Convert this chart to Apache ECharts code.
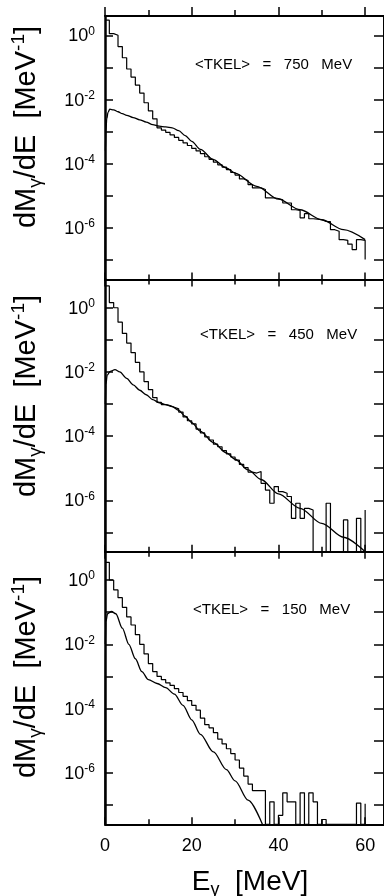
<!DOCTYPE html>
<html><head><meta charset="utf-8">
<script src="https://cdn.jsdelivr.net/npm/echarts@6/dist/echarts.min.js"></script>
<style>html,body{margin:0;padding:0;background:#fff}#c{width:384px;height:896px}</style>
</head><body><div id="c"></div>
<script>
// ---------- data (y values are log10 of dM/dE in MeV^-1; null = empty bin) ----------
const xMajorTicks = [0, 20, 40, 60];
const xMinorTicks = [10, 30, 50];
const xTickLabels = [0, 20, 40, 60];
const yTicks = [-7, -6, -5, -4, -3, -2, -1, 0];
const yTickLabels = [-6, -4, -2, 0];
const tkelLabels = ['750', '450', '150'];

const binLeft = [0,1,2,3,4,5,6,7,8,9,10,11,12,13,14,15,16,17,18,19,20,21,22,23,24,25,26,27,28,29,
  30,31,32,33,34,35,36,37,38,39,40,41,42,43,44,45,46,47,48,49,50,51,52,53,54,55,56,57,58,59,60];

const hist750 = [0.47,0.05,0.0,-0.35,-0.7,-1.05,-1.3,-1.55,-1.8,-2.1,
  -2.35,-2.6,-2.88,-2.95,-3.02,-3.1,-3.18,-3.27,-3.35,-3.43,
  -3.52,-3.6,-3.68,-3.78,-3.86,-3.95,-4.03,-4.1,-4.18,-4.27,
  -4.35,-4.47,-4.52,-4.65,-4.75,-4.75,-4.8,-5.06,-5.06,-5.08,
  -5.12,-5.22,-5.22,-5.43,-5.45,-5.68,-5.55,-5.71,-5.72,-5.74,
  -5.79,-5.8,-6.05,-6.1,-6.36,-6.38,-6.5,-6.67,-6.36,-6.38];
const hist750End = -6.98;

const hist450 = [0.68,0.16,0.0,-0.45,-0.8,-1.1,-1.4,-1.7,-2.0,-2.3,
  -2.55,-2.8,-2.95,-3.02,-3.05,-3.1,-3.15,-3.25,-3.4,-3.52,
  -3.62,-3.78,-3.9,-4.02,-4.12,-4.25,-4.33,-4.45,-4.55,-4.65,
  -4.75,-4.88,-4.98,-5.12,-5.15,-5.1,-5.47,-5.68,-6.09,-5.57,
  -5.73,-5.78,-5.88,-6.56,-6.09,-6.56,-6.25,-6.3,null,null,
  null,-6.09,null,null,null,-6.61,null,null,-6.56,null];
const hist450End = -6.3;

const hist150 = [0.55,0.0,-0.31,-0.55,-0.85,-1.15,-1.4,-1.7,-2.0,-2.3,
  -2.6,-2.85,-3.0,-3.1,-3.2,-3.28,-3.38,-3.5,-3.62,-3.75,
  -3.9,-4.05,-4.3,-4.5,-4.6,-4.75,-4.95,-5.1,-5.25,-5.4,
  -5.6,-5.85,-6.1,-6.35,-6.55,-6.55,-6.55,null,-6.9,null,
  -7.32,-6.62,-6.9,-6.9,null,-6.62,null,-6.62,-6.9,null,
  -7.45,null,null,null,null,null,null,null,-6.94,null];
const hist150End = -6.96;

const curve750E = [0,0.08,0.2,0.4,0.7,1.1,2,3,4,5,6.5,8,9.5,11,12.5,14,15.5,17,18.5,20,22,25,28,30,35,40,45,50,55,60];
const curve750  = [-7.6,-3.6,-3.0,-2.6,-2.4,-2.3,-2.32,-2.38,-2.44,-2.49,-2.56,-2.63,-2.7,-2.78,-2.83,-2.85,-2.88,-2.97,-3.12,-3.3,-3.55,-3.87,-4.13,-4.29,-4.7,-5.1,-5.43,-5.74,-6.05,-6.36];

const curve450E = [0,0.06,0.2,0.5,1.2,2.3,3.4,5,6.5,8,9.5,11,12.5,14,15.5,17,18.5,20,22,25,28,30,33,36,40,45,50,55,60];
const curve450  = [-7.6,-3.0,-2.4,-2.1,-1.98,-1.93,-2.0,-2.2,-2.4,-2.57,-2.71,-2.86,-2.96,-3.02,-3.08,-3.2,-3.38,-3.58,-3.85,-4.2,-4.52,-4.72,-5.05,-5.35,-5.8,-6.25,-6.72,-7.15,-7.6];

const curve150E = [0,0.05,0.2,0.6,1.5,2.5,4,5.5,7,8.5,10,12,14,16,18,20,22,25,28,30,33,36.3];
const curve150  = [-7.6,-2.0,-1.3,-1.05,-0.98,-1.05,-1.5,-2.0,-2.45,-2.85,-3.1,-3.22,-3.35,-3.55,-3.9,-4.35,-4.8,-5.35,-5.9,-6.25,-6.85,-7.6];

// ---------- layout ----------
const X_MAX = 64.35, Y_MIN = -7.6;
const FONT = 'Liberation Sans';
const panels = [
  {top: 16, height: 263.5, yMax: 0.6, hist: hist750, histEnd: hist750End, cx: curve750E, cy: curve750, tkelX: 195, tkelY: 65, titleY: 127},
  {top: 279.5, height: 272.2, yMax: 0.88, hist: hist450, histEnd: hist450End, cx: curve450E, cy: curve450, tkelX: 200, tkelY: 335, titleY: 396},
  {top: 551.7, height: 272.6, yMax: 0.88, hist: hist150, histEnd: hist150End, cx: curve150E, cy: curve150, tkelX: 193, tkelY: 610, titleY: 677}
];

const black = '#000';
const grids = [], xAxes = [], yAxes = [], series = [], graphics = [];

panels.forEach((p, g) => {
  grids.push({left: 105, top: p.top, width: 281, height: p.height, containLabel: false});
  const base = {gridIndex: g, type: 'value', min: 0, max: X_MAX, splitLine: {show: false},
    axisLabel: {show: false}, axisLine: {show: true, onZero: false, lineStyle: {color: black, width: 2}}};
  const tickStyle = {color: black, width: 1.5};
  xAxes.push(Object.assign({}, base, {position: 'bottom',
    axisTick: {show: true, inside: true, length: 7, customValues: xMajorTicks, lineStyle: tickStyle},
    axisLabel: g === 2 ? {show: true, customValues: xTickLabels, margin: 13, fontSize: 18, fontFamily: FONT, color: black} : {show: false}}));
  xAxes.push(Object.assign({}, base, {position: 'bottom', axisLine: {show: false, onZero: false},
    axisTick: {show: true, inside: true, length: 5, customValues: xMinorTicks, lineStyle: tickStyle}}));
  xAxes.push(Object.assign({}, base, {position: 'top',
    axisTick: {show: true, inside: g !== 0, length: g === 0 ? 9 : 7, customValues: xMajorTicks, lineStyle: tickStyle}}));
  xAxes.push(Object.assign({}, base, {position: 'top', axisLine: {show: false, onZero: false},
    axisTick: {show: true, inside: g !== 0, length: g === 0 ? 6 : 5, customValues: xMinorTicks, lineStyle: tickStyle}}));

  yAxes.push({gridIndex: g, type: 'value', min: Y_MIN, max: p.yMax, position: 'left', splitLine: {show: false},
    axisLine: {show: true, onZero: false, lineStyle: {color: black, width: 2.5}},
    axisTick: {show: true, inside: true, length: 8, customValues: yTicks, lineStyle: tickStyle},
    axisLabel: {show: true, customValues: yTickLabels, margin: 10,
      formatter: v => '{b|10}{s|' + (v === 0 ? '0' : '-' + Math.abs(v)) + '}',
      rich: {b: {fontSize: 18, fontFamily: FONT, color: black, lineHeight: 20, verticalAlign: 'bottom'},
             s: {fontSize: 12, fontFamily: FONT, color: black, lineHeight: 12, verticalAlign: 'top'}}}});
  yAxes.push({gridIndex: g, type: 'value', min: Y_MIN, max: p.yMax, position: 'right', splitLine: {show: false},
    axisLine: {show: true, onZero: false, lineStyle: {color: black, width: 2}},
    axisTick: {show: true, inside: true, length: 10, customValues: yTicks, lineStyle: tickStyle},
    axisLabel: {show: false}});

  const histData = p.hist.map((v, i) => [binLeft[i], v === null ? Y_MIN : v]);
  histData.push([binLeft[p.hist.length], p.histEnd]);
  series.push({type: 'line', xAxisIndex: g * 4, yAxisIndex: g * 2, data: histData, step: 'end',
    showSymbol: false, lineStyle: {color: black, width: 1.2}, z: 3});
  series.push({type: 'line', xAxisIndex: g * 4, yAxisIndex: g * 2, data: p.cx.map((x, i) => [x, p.cy[i]]),
    smooth: 0.3, smoothMonotone: 'x', showSymbol: false, lineStyle: {color: black, width: 1.3}, z: 4});

  graphics.push({type: 'text', x: p.tkelX, y: p.tkelY, style: {text: '<TKEL>   =   ' + tkelLabels[g] + '   MeV',
    fontSize: 15, fontFamily: FONT, fill: black, align: 'left', verticalAlign: 'middle'}});
  graphics.push({type: 'text', x: 27, y: p.titleY, rotation: Math.PI / 2, style: {
    text: '{a|dM}{g|γ}{a|/dE  [MeV}{p|-1}{a|]}', align: 'center', verticalAlign: 'middle',
    rich: {a: {fontSize: 29, fontFamily: FONT, fill: black, lineHeight: 36, verticalAlign: 'middle'},
           g: {fontSize: 19, fontFamily: FONT, fill: black, lineHeight: 19, verticalAlign: 'bottom'},
           p: {fontSize: 19, fontFamily: FONT, fill: black, lineHeight: 19, verticalAlign: 'top'}}}});
});

graphics.push({type: 'text', x: 250, y: 882, style: {text: '{a|E}{g|γ}{a|  [MeV]}', align: 'center', verticalAlign: 'middle',
  rich: {a: {fontSize: 28, fontFamily: FONT, fill: black, lineHeight: 34, verticalAlign: 'middle'},
         g: {fontSize: 18, fontFamily: FONT, fill: black, lineHeight: 18, verticalAlign: 'bottom'}}}});

const chart = echarts.init(document.getElementById('c'), null, {renderer: 'canvas'});
chart.setOption({
  animation: false, backgroundColor: '#fff',
  grid: grids, xAxis: xAxes, yAxis: yAxes, series: series, graphic: graphics
});
</script></body></html>
